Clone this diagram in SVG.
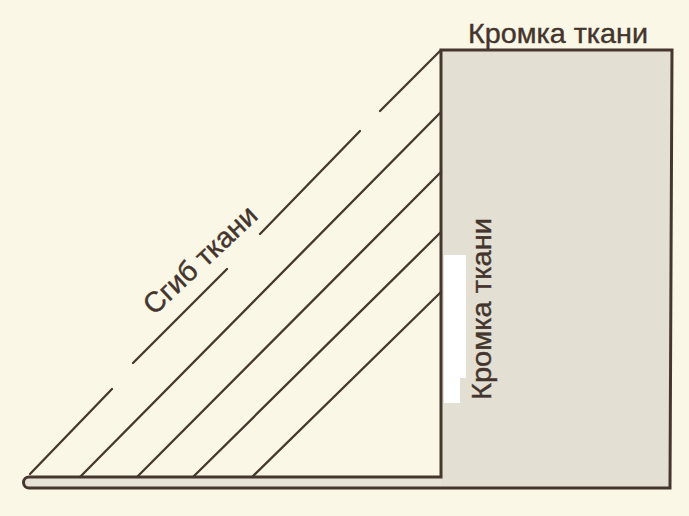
<svg xmlns="http://www.w3.org/2000/svg" width="689" height="516" viewBox="0 0 689 516">
<style>
.ln{stroke:#45372e;stroke-width:2.3;fill:none;stroke-linecap:round}
.edge{stroke:#45372e;stroke-width:3;fill:none;stroke-linejoin:miter}
.lbl{font-family:"Liberation Sans",Arial,sans-serif;font-size:28.5px;fill:#43352d;stroke:#43352d;stroke-width:0.4}
</style>
<rect width="689" height="516" fill="#fbf7e6"/>
<g id="selvage">
<polygon points="441,50 672,50 670,488 441,488" fill="#e4dfd3"/>
<path d="M441,477 H29 A5.5,5.5 0 0 0 29,488 H441 Z" fill="#e6e2d6"/>
<path class="edge" d="M441,477 V50 H672 L670,488 H29 A5.5,5.5 0 0 1 29,477 Z"/>
<polygon points="444,255 466,255 466,378 460,378 460,403 444,403" fill="#ffffff"/>
</g>
<g id="fold-lines">
<line class="ln" x1="30" y1="474" x2="112" y2="389"/>
<line class="ln" x1="133" y1="363" x2="227" y2="269"/>
<line class="ln" x1="260" y1="234" x2="360" y2="131"/>
<line class="ln" x1="380" y1="111" x2="441" y2="50"/>
<line class="ln" x1="80" y1="477" x2="441" y2="112"/>
<line class="ln" x1="137" y1="477" x2="441" y2="172"/>
<line class="ln" x1="193" y1="477" x2="441" y2="232"/>
<line class="ln" x1="252" y1="477" x2="441" y2="292"/>
</g>
<g id="labels">
<text class="lbl" x="468" y="43" textLength="180" lengthAdjust="spacingAndGlyphs">Кромка ткани</text>
<text class="lbl" transform="translate(491,400) rotate(-90)" textLength="182" lengthAdjust="spacingAndGlyphs">Кромка ткани</text>
<text class="lbl" transform="translate(154,316) rotate(-43)" textLength="144" lengthAdjust="spacingAndGlyphs">Сгиб ткани</text>
</g>
</svg>
